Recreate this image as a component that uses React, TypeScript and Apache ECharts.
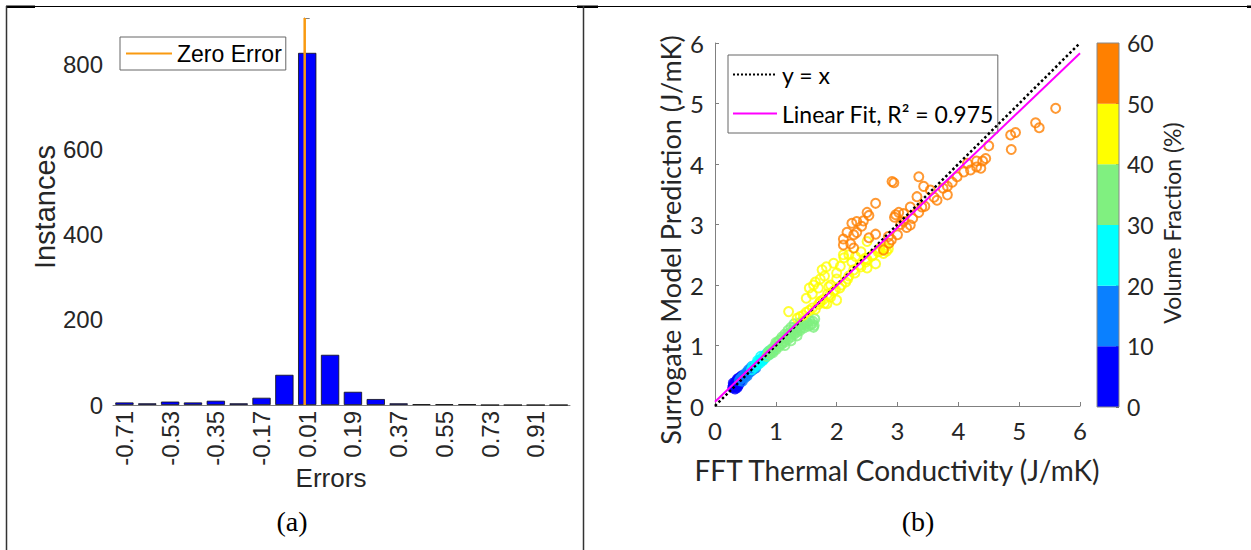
import React, { useEffect, useRef } from "react";
import * as echarts from "echarts";

// ---------- (a) histogram data ----------
const binLabels = ["-0.71","-0.62","-0.53","-0.44","-0.35","-0.26","-0.17","-0.08","0.01","0.10","0.19","0.28","0.37","0.46","0.55","0.64","0.73","0.82","0.91","1.00"];
const binCounts = [6, 4, 8, 6, 10, 4, 17, 71, 828, 118, 31, 14, 4, 2, 2, 2, 0, 0, 0, 0];
const zeroErrorLine = [[0, 0], [0, 910]];

// ---------- (b) scatter data, grouped by volume fraction ----------
const vf0to10 = [[0.29,0.3],[0.3,0.34],[0.31,0.32],[0.32,0.37],[0.33,0.35],[0.34,0.4],[0.35,0.33],[0.36,0.42],[0.37,0.38],[0.38,0.44],[0.39,0.36],[0.4,0.46],[0.41,0.41],[0.42,0.48],[0.43,0.44],[0.44,0.5],[0.45,0.46],[0.34,0.31],[0.37,0.45],[0.3,0.38],[0.4,0.39],[0.33,0.28],[0.36,0.3],[0.42,0.4],[0.38,0.33]];
const vf10to20 = [[0.4,0.42],[0.42,0.46],[0.44,0.45],[0.46,0.5],[0.48,0.49],[0.5,0.54],[0.52,0.52],[0.54,0.57],[0.56,0.55],[0.58,0.6],[0.6,0.58],[0.62,0.63],[0.64,0.61],[0.66,0.66],[0.5,0.47],[0.55,0.6],[0.45,0.41],[0.6,0.65],[0.53,0.5],[0.67,0.63]];
const vf20to30 = [[0.6,0.6],[0.62,0.66],[0.65,0.64],[0.68,0.7],[0.7,0.68],[0.72,0.74],[0.74,0.71],[0.76,0.78],[0.78,0.75],[0.8,0.82],[0.82,0.79],[0.84,0.86],[0.86,0.83],[0.88,0.9],[0.9,0.86],[0.92,0.93],[0.7,0.75],[0.8,0.77],[0.75,0.82],[0.94,0.9]];
const vf30to40 = [[0.85,0.82],[0.88,0.9],[0.9,0.85],[0.93,0.94],[0.95,0.88],[0.98,0.99],[1.0,0.93],[1.02,1.04],[1.05,0.98],[1.07,1.09],[1.1,1.02],[1.12,1.12],[1.15,1.06],[1.18,1.17],[1.2,1.1],[1.22,1.21],[1.25,1.14],[1.28,1.25],[1.3,1.18],[1.33,1.28],[1.35,1.22],[1.38,1.32],[1.4,1.25],[1.43,1.35],[1.46,1.29],[1.5,1.38],[1.53,1.32],[1.56,1.41],[1.6,1.36],[1.62,1.3],[1.64,1.44],[1.0,1.05],[1.1,1.14],[1.2,1.25],[1.3,1.3],[1.15,1.0],[1.25,1.08],[1.35,1.16],[0.87,0.86],[0.92,0.89],[0.97,0.92],[1.03,0.99],[1.08,1.03],[1.13,1.08],[1.17,1.12],[1.23,1.17],[1.27,1.2],[1.32,1.24],[1.37,1.27],[1.42,1.3],[1.47,1.34],[1.52,1.37],[1.57,1.34],[1.61,1.4],[1.45,1.4],[1.4,1.38],[1.05,1.08],[1.15,1.19],[1.25,1.3],[1.3,1.36],[1.63,1.33]];
const vf40to50 = [[1.21,1.56],[1.5,1.78],[1.55,1.95],[1.6,1.85],[1.62,2.0],[1.65,2.05],[1.7,1.95],[1.73,2.1],[1.76,2.25],[1.8,2.15],[1.83,2.3],[1.87,1.97],[1.95,2.36],[2.0,2.2],[2.06,2.31],[2.11,2.5],[2.12,2.45],[2.2,2.5],[2.25,2.38],[2.31,2.47],[2.4,2.55],[2.47,2.44],[2.5,2.72],[2.5,2.28],[2.64,2.35],[2.7,2.55],[2.77,2.52],[2.85,2.6],[1.35,1.45],[1.45,1.5],[1.55,1.58],[1.65,1.6],[1.73,1.72],[1.8,1.7],[1.9,1.8],[2.0,1.75],[2.05,1.95],[2.15,2.05],[2.2,2.15],[2.3,2.2],[2.4,2.3],[2.5,2.42],[2.6,2.5],[2.7,2.6],[2.8,2.62],[1.85,1.85],[1.95,1.9],[1.84,1.69],[1.73,1.73],[1.4,1.48],[1.5,1.55],[1.6,1.62],[1.7,1.68],[1.78,1.76],[1.88,1.83],[1.98,1.92],[2.08,2.0],[2.18,2.1],[2.28,2.25],[2.38,2.33],[2.48,2.38],[2.58,2.48],[2.68,2.55],[2.76,2.6],[2.82,2.56],[1.9,2.0],[2.0,2.1]];
const vf50to60 = [[2.11,2.66],[2.28,2.61],[2.28,2.83],[2.25,3.02],[2.33,3.05],[2.44,3.06],[2.41,2.97],[2.17,2.87],[2.33,2.87],[2.23,2.68],[2.11,2.76],[2.5,3.2],[2.53,3.15],[2.64,3.35],[2.53,2.78],[2.64,2.84],[2.91,3.71],[2.94,3.69],[3.35,3.79],[3.43,3.63],[2.77,2.58],[2.86,2.69],[2.9,2.75],[3.0,2.83],[2.97,3.16],[3.05,3.0],[3.1,3.18],[3.15,2.95],[3.21,2.99],[3.21,3.29],[3.25,3.1],[3.32,3.46],[3.35,3.2],[3.4,3.29],[3.45,3.3],[3.54,3.57],[3.6,3.45],[3.65,3.4],[3.75,3.6],[3.82,3.63],[3.82,3.49],[3.9,3.7],[3.98,3.79],[4.09,3.87],[4.15,4.01],[4.2,3.9],[4.3,3.95],[4.37,3.93],[4.4,4.05],[4.45,4.09],[4.5,4.3],[4.3,4.05],[4.87,4.24],[4.86,4.48],[4.94,4.52],[5.27,4.68],[5.33,4.6],[5.6,4.92],[2.95,3.12],[3.02,3.2],[2.85,2.8],[3.1,3.05]];
const identityLine = [[0, 0], [6, 6]];
const fitLine = [[0, 0.07], [6, 5.83]];

// ---------- colour bar ----------
const bandSizes = [10, 10, 10, 10, 10, 10];
const bandColors = ["#0000FF", "#0A80FF", "#00FFFF", "#80F080", "#FFFF00", "#FF8000"];
const scatterGroups = [vf0to10, vf10to20, vf20to30, vf30to40, vf40to50, vf50to60];

const SANS = "'Liberation Sans', Arial, sans-serif";
const CAL = "Lato, 'Open Sans', sans-serif";
const SERIF = "'Liberation Serif', 'Times New Roman', serif";
const AX = "#808080";
const TXT = "#262626";

export default function App() {
  const ref = useRef<HTMLDivElement>(null);
  useEffect(() => {
    document.body.style.margin = "0";
    const chart = echarts.init(ref.current!, null, { renderer: "svg" });
    const scatterSeries = scatterGroups.map((g, i) => ({
      type: "scatter",
      xAxisIndex: 2,
      yAxisIndex: 1,
      data: g,
      symbol: "circle",
      symbolSize: 9,
      itemStyle: { color: "rgba(0,0,0,0)", borderColor: bandColors[i], borderWidth: 2 },
      z: 3,
    }));
    const barSeries = bandSizes.map((v, i) => ({
      type: "bar",
      xAxisIndex: 3,
      yAxisIndex: 2,
      stack: "cb",
      data: [v],
      barWidth: "100%",
      itemStyle: { color: bandColors[i] },
      silent: true,
    }));
    const option: any = {
      animation: false,
      grid: [
        { left: 113, top: 18, width: 457, height: 387 },
        { left: 715, top: 43, width: 365, height: 363 },
        { left: 1097, top: 43, width: 22, height: 364, show: true, borderColor: "#888", borderWidth: 1, backgroundColor: "transparent", z: 5 },
      ],
      xAxis: [
        {
          type: "category", gridIndex: 0, data: binLabels,
          axisLine: { lineStyle: { color: AX } },
          axisTick: { inside: true, length: 5, alignWithLabel: true, interval: 0, lineStyle: { color: AX } },
          axisLabel: { interval: 1, rotate: 90, margin: 6, color: TXT, fontSize: 24, fontFamily: SANS },
        },
        { type: "value", gridIndex: 0, min: -0.755, max: 1.045, show: false },
        {
          type: "value", gridIndex: 1, min: 0, max: 6, interval: 1,
          splitLine: { show: false },
          axisLine: { lineStyle: { color: AX } },
          axisTick: { inside: true, length: 4, lineStyle: { color: AX } },
          axisLabel: { margin: 12, color: TXT, fontSize: 24, fontFamily: CAL },
        },
        { type: "category", gridIndex: 2, data: ["cb"], show: false },
      ],
      yAxis: [
        {
          type: "value", gridIndex: 0, min: 0, max: 910, interval: 200,
          splitLine: { show: false },
          axisLine: { show: true, lineStyle: { color: AX } },
          axisTick: { show: true, inside: true, length: 5, lineStyle: { color: AX } },
          axisLabel: { margin: 10, color: TXT, fontSize: 24, fontFamily: SANS, formatter: (v: number) => (v % 200 === 0 ? String(v) : "") },
        },
        {
          type: "value", gridIndex: 1, min: 0, max: 6, interval: 1,
          splitLine: { show: false },
          axisLine: { show: true, lineStyle: { color: AX } },
          axisTick: { show: true, inside: true, length: 4, lineStyle: { color: AX } },
          axisLabel: { margin: 11, color: TXT, fontSize: 24, fontFamily: CAL },
        },
        {
          type: "value", gridIndex: 2, min: 0, max: 60, interval: 10, position: "right",
          splitLine: { show: false },
          axisLine: { show: false },
          axisTick: { show: true, inside: true, length: 3, lineStyle: { color: "#555" } },
          axisLabel: { margin: 8, color: TXT, fontSize: 23, fontFamily: CAL },
        },
      ],
      legend: [
        {
          data: ["Zero Error"], left: 120, top: 37, orient: "vertical",
          itemWidth: 46, itemHeight: 14, padding: [5, 4, 5, 5],
          itemStyle: { opacity: 0 },
          borderColor: "#666", borderWidth: 1, backgroundColor: "#fff",
          textStyle: { fontSize: 23, fontFamily: SANS, color: "#000" },
        },
        {
          data: ["y = x", "Linear Fit, R² = 0.975"], left: 728, top: 55, orient: "vertical",
          itemWidth: 44, itemHeight: 14, itemGap: 16, padding: [8, 4, 8, 4],
          itemStyle: { opacity: 0 },
          borderColor: "#666", borderWidth: 1, backgroundColor: "#fff",
          textStyle: { fontSize: 23, fontFamily: CAL, color: "#000" },
        },
      ],
      series: [
        {
          type: "bar", name: "Counts", xAxisIndex: 0, yAxisIndex: 0, data: binCounts,
          barWidth: "80%",
          itemStyle: { color: "#0000FF", borderColor: "#111", borderWidth: 0.8 },
        },
        {
          type: "line", name: "Zero Error", xAxisIndex: 1, yAxisIndex: 0, data: zeroErrorLine,
          symbol: "none", lineStyle: { color: "#F99A10", width: 2.5 }, itemStyle: { color: "#F99A10" }, z: 4,
        },
        ...scatterSeries,
        {
          type: "line", name: "y = x", xAxisIndex: 2, yAxisIndex: 1, data: identityLine,
          symbol: "none", lineStyle: { color: "#000", width: 2.5, type: "dotted" }, itemStyle: { color: "#000" }, z: 4,
        },
        {
          type: "line", name: "Linear Fit, R² = 0.975", xAxisIndex: 2, yAxisIndex: 1, data: fitLine,
          symbol: "none", lineStyle: { color: "#FF00FF", width: 2 }, itemStyle: { color: "#FF00FF" }, z: 5,
        },
        ...barSeries,
      ],
      graphic: [
        { type: "line", shape: { x1: 6, y1: 6.5, x2: 1251, y2: 6.5 }, style: { stroke: "#000", lineWidth: 1 } },
        { type: "rect", shape: { x: 6, y: 5.5, width: 29, height: 2.5 }, style: { fill: "#000" } },
        { type: "rect", shape: { x: 577, y: 5.5, width: 21, height: 2.5 }, style: { fill: "#000" } },
        { type: "rect", shape: { x: 1247, y: 5.5, width: 4, height: 2.5 }, style: { fill: "#000" } },
        { type: "line", shape: { x1: 6.5, y1: 6, x2: 6.5, y2: 550 }, style: { stroke: "#333", lineWidth: 1.5 } },
        { type: "line", shape: { x1: 583.5, y1: 6, x2: 583.5, y2: 550 }, style: { stroke: "#333", lineWidth: 1.5 } },
        { type: "text", x: 45, y: 207, rotation: Math.PI / 2, style: { text: "Instances", font: `29px ${SANS}`, fill: TXT, align: "center", verticalAlign: "middle" } },
        { type: "text", x: 331, y: 478, style: { text: "Errors", font: `26px ${SANS}`, fill: TXT, align: "center", verticalAlign: "middle" } },
        { type: "text", x: 292, y: 521, style: { text: "(a)", font: `28px ${SERIF}`, fill: "#000", align: "center", verticalAlign: "middle" } },
        { type: "text", x: 918, y: 521, style: { text: "(b)", font: `28px ${SERIF}`, fill: "#000", align: "center", verticalAlign: "middle" } },
        { type: "text", x: 897, y: 470, style: { text: "FFT Thermal Conductivity (J/mK)", font: `28px ${CAL}`, fill: TXT, align: "center", verticalAlign: "middle" } },
        { type: "text", x: 670, y: 240, rotation: Math.PI / 2, style: { text: "Surrogate Model Prediction (J/mK)", font: `27px ${CAL}`, fill: TXT, align: "center", verticalAlign: "middle" } },
        { type: "text", x: 1172, y: 223, rotation: Math.PI / 2, style: { text: "Volume Fraction (%)", font: `23px ${CAL}`, fill: TXT, align: "center", verticalAlign: "middle" } },
      ],
    };
    chart.setOption(option);
    return () => chart.dispose();
  }, []);
  return <div ref={ref} style={{ width: 1251, height: 550, background: "#fff" }} />;
}
